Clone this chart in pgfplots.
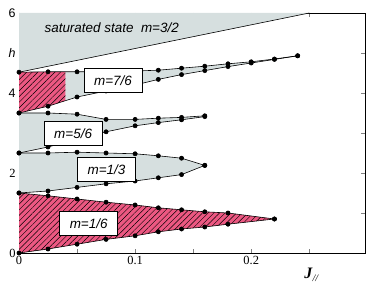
\documentclass[border=0pt]{standalone}
\usepackage{fontspec}
\setmainfont{Liberation Serif}
\newfontfamily\lsans{Liberation Sans}
\usepackage{pgfplots}
\pgfplotsset{compat=1.18}
\usepgfplotslibrary{fillbetween}
\usetikzlibrary{patterns.meta}
\definecolor{plat}{RGB}{214,223,223}
\definecolor{hpink}{RGB}{236,88,130}
\begin{document}
\begin{tikzpicture}
\begin{axis}[
  scale only axis, width=346bp, height=240bp,
  xmin=0, xmax=0.298, ymin=0, ymax=6,
  xtick={0,0.05,0.1,0.15,0.2,0.25},
  xticklabels={0,,0.1,,0.2,},
  ytick={0,1,2,3,4,5,6},
  yticklabels={0,,2,,{\lsans 4},{\lsans\itshape h},{\lsans 6}},
  tick align=inside, major tick length=4bp,
  tick label style={font=\fontsize{12.5}{12.5}\selectfont},
  /pgf/number format/assume math mode=true,
  axis line style={line width=0.8pt},
  clip=false,
  every axis plot/.append style={line width=0.6pt},
]
% saturated region
\addplot[fill=plat, draw=none] coordinates {(0,4.52) (0.25,6) (0,6)} -- cycle;
\addplot[black, no marks] coordinates {(0,4.52) (0.25,6)};

% m=7/6
\addplot[name path=U7, black, mark=*, mark size=2.1pt] coordinates {
(0,4.52) (0.025,4.53) (0.05,4.53) (0.075,4.54) (0.1,4.55) (0.12,4.57) (0.14,4.62) (0.16,4.67) (0.18,4.73) (0.2,4.78) (0.22,4.85) (0.24,4.93)};
\addplot[name path=L7, black, mark=*, mark size=2.1pt] coordinates {
(0,3.5) (0.025,3.67) (0.05,3.9) (0.075,4.05) (0.1,4.2) (0.12,4.34) (0.14,4.46) (0.16,4.56) (0.18,4.66) (0.2,4.75) (0.22,4.84) (0.24,4.93)};
\addplot[fill=plat] fill between[of=U7 and L7];
\addplot[fill=hpink, postaction={pattern={Lines[angle=45,distance=4bp,line width=0.45pt]}}] fill between[of=U7 and L7, soft clip={domain=0:0.04}];

% m=5/6
\addplot[name path=U5, black, mark=*, mark size=2.1pt] coordinates {
(0,3.5) (0.025,3.5) (0.05,3.47) (0.075,3.34) (0.1,3.34) (0.12,3.37) (0.14,3.39) (0.16,3.43)};
\addplot[name path=L5, black, mark=*, mark size=2.1pt] coordinates {
(0,2.5) (0.025,2.65) (0.05,2.85) (0.075,3.03) (0.1,3.18) (0.12,3.26) (0.14,3.33) (0.16,3.41)};
\addplot[fill=plat] fill between[of=U5 and L5];

% m=1/3
\addplot[name path=U3, black, mark=*, mark size=2.1pt] coordinates {
(0,2.5) (0.025,2.5) (0.05,2.52) (0.075,2.5) (0.1,2.48) (0.12,2.43) (0.14,2.37) (0.16,2.19)};
\addplot[name path=L3, black, mark=*, mark size=2.1pt] coordinates {
(0,1.5) (0.025,1.55) (0.05,1.64) (0.075,1.73) (0.1,1.8) (0.12,1.88) (0.14,1.96) (0.16,2.19)};
\addplot[fill=plat] fill between[of=U3 and L3];

% m=1/6
\addplot[name path=U1, black, mark=*, mark size=2.1pt] coordinates {
(0,1.5) (0.025,1.43) (0.05,1.35) (0.075,1.27) (0.1,1.2) (0.12,1.13) (0.14,1.08) (0.16,1.03) (0.18,1.0) (0.22,0.85)};
\addplot[name path=L1, black, mark=*, mark size=2.1pt] coordinates {
(0,0) (0.025,0.1) (0.05,0.22) (0.075,0.34) (0.1,0.43) (0.12,0.53) (0.14,0.6) (0.16,0.65) (0.18,0.72) (0.22,0.85)};
\addplot[fill=hpink, postaction={pattern={Lines[angle=45,distance=4bp,line width=0.45pt]}}] fill between[of=U1 and L1];

% labels
\tikzset{mbox/.style={draw=black, line width=1pt, fill=white, font=\lsans\itshape\fontsize{13.5}{13.5}\selectfont, minimum width=58bp, minimum height=24bp, inner sep=1pt}}
\begin{pgfonlayer}{axis foreground}
\node[mbox] at (axis cs:0.081,4.3) {m=7/6};
\node[mbox] at (axis cs:0.0466,2.99) {m=5/6};
\node[mbox] at (axis cs:0.0754,2.09) {m=1/3};
\node[mbox] at (axis cs:0.060,0.74) {m=1/6};
\end{pgfonlayer}
\node[anchor=west, font=\lsans\itshape\fontsize{13.5}{13.5}\selectfont] at (axis cs:0.019,5.63) {saturated state\ \ m=3/2};
\node[font=\fontsize{16}{16}\selectfont] at (axis cs:0.252,-0.55) {\textbf{\textit{J}}\raisebox{-0.5ex}{\fontsize{10}{10}\selectfont\textit{//}}};
\end{axis}
\path ([shift={(-19bp,-32bp)}]current axis.south west) rectangle ([shift={(9bp,13bp)}]current axis.north east);
\end{tikzpicture}
\end{document}
